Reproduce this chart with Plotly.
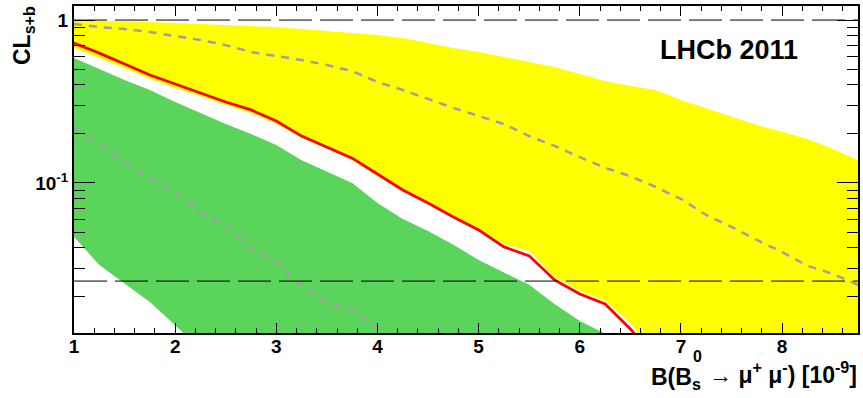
import math
import plotly.graph_objects as go

# ---- data ----
B = [1.0, 1.25, 1.5, 1.75, 2.0, 2.25, 2.5, 2.75, 3.0, 3.25, 3.5, 3.75, 4.0, 4.25, 4.5, 4.75,
     5.0, 5.25, 5.5, 5.75, 6.0, 6.25, 6.5, 6.75, 7.0, 7.25, 7.5, 7.75, 8.0, 8.25, 8.5, 8.75]

yellow_hi = [1.0, 0.993, 0.986, 0.972, 0.958, 0.945, 0.932, 0.918, 0.906, 0.880, 0.856, 0.831,
             0.809, 0.775, 0.722, 0.673, 0.636, 0.593, 0.552, 0.515, 0.466, 0.422, 0.394, 0.372,
             0.323, 0.288, 0.254, 0.227, 0.206, 0.186, 0.162, 0.138]
yellow_lo = [0.673, 0.584, 0.508, 0.435, 0.383, 0.342, 0.301, 0.269, 0.230, 0.189, 0.162, 0.138,
             0.110, 0.0893, 0.0743, 0.0618, 0.0522, 0.0422, 0.0383, 0.0265, 0.0217, 0.0189, 0.0138,
             0.0088, 0.008, 0.008, 0.008, 0.008, 0.008, 0.008, 0.008, 0.008]

green_hi = [0.584, 0.5005, 0.428, 0.372, 0.314, 0.269, 0.230, 0.200, 0.171, 0.138, 0.117, 0.100,
            0.0754, 0.0601, 0.0508, 0.0417, 0.0337, 0.0281, 0.0237, 0.0181, 0.0142, 0.0119, 0.0095]
green_lo = [0.0467, 0.0314, 0.0243, 0.0186, 0.0134, 0.0095]

observed = [0.723, 0.627, 0.537, 0.460, 0.405, 0.357, 0.314, 0.281, 0.240, 0.194, 0.166, 0.142,
            0.1135, 0.0906, 0.0754, 0.0619, 0.0515, 0.0405, 0.0357, 0.0254, 0.0208, 0.0181, 0.0127,
            0.0084]

exp_hi = [0.945, 0.906, 0.881, 0.844, 0.798, 0.754, 0.702, 0.636, 0.601, 0.568, 0.530, 0.486,
          0.417, 0.372, 0.328, 0.289, 0.258, 0.230, 0.194, 0.169, 0.144, 0.124, 0.110, 0.0945,
          0.0798, 0.0636, 0.0537, 0.0447, 0.0377, 0.0310, 0.0277, 0.0237]
exp_lo = [0.2175, 0.171, 0.136, 0.107, 0.088, 0.066, 0.0545, 0.0394, 0.0328, 0.0233, 0.0184,
          0.0166, 0.0129, 0.0088]

ref_levels = [1.0, 0.025]
x_range = [1.0, 8.75]
y_range = [0.012, 1.22]

y_major = [1.0, 0.1]
y_major_text = ["1", "10<sup>-1</sup>"]
y_minor = [0.02, 0.03, 0.04, 0.05, 0.06, 0.07, 0.08, 0.09, 0.2, 0.3, 0.4, 0.5, 0.6, 0.7, 0.8, 0.9]

# ---- figure ----
FONT = "Liberation Sans"
fig = go.Figure()

n_g_hi = len(green_hi)
n_g_lo = len(green_lo)

fig.add_trace(go.Scatter(
    x=B + B[::-1], y=yellow_hi + yellow_lo[::-1], fill="toself", fillcolor="#ffff00",
    line=dict(width=0), mode="lines", hoverinfo="skip", showlegend=False))
fig.add_trace(go.Scatter(
    x=B[:n_g_hi] + B[:n_g_lo][::-1], y=green_hi + green_lo[::-1], fill="toself",
    fillcolor="#5ad45a", line=dict(width=0), mode="lines", hoverinfo="skip", showlegend=False))
fig.add_trace(go.Scatter(
    x=B, y=exp_hi, mode="lines", line=dict(color="#a19ca5", width=2.5, dash="8px,7px"),
    showlegend=False))
fig.add_trace(go.Scatter(
    x=B[:len(exp_lo)], y=exp_lo, mode="lines", line=dict(color="#a19ca5", width=2.5, dash="8px,7px"),
    showlegend=False))
fig.add_trace(go.Scatter(
    x=B[:len(observed)], y=observed, mode="lines", line=dict(color="#ff0000", width=2.8),
    showlegend=False))
for lv in ref_levels:
    fig.add_trace(go.Scatter(
        x=x_range, y=[lv, lv], mode="lines", line=dict(color="black", width=1, dash="33px,8px"),
        showlegend=False))

L, R, T, BOT, W, H = 74, 5, 6, 65, 863, 398
PW, PH = W - L - R, H - T - BOT


def px(xp):
    return (xp - L) / PW


def py(yp):
    return (H - BOT - yp) / PH


bold = lambda s: dict(family=FONT, size=s, weight="bold", color="black")

fig.update_layout(
    width=W, height=H,
    margin=dict(l=L, r=R, t=T, b=BOT, autoexpand=False),
    paper_bgcolor="white", plot_bgcolor="white",
    font=dict(family=FONT, color="black"),
    xaxis=dict(
        range=x_range, showgrid=False, zeroline=False, automargin=False,
        showline=True, linecolor="black", linewidth=2, mirror="allticks",
        ticks="inside", tickmode="linear", tick0=1, dtick=1, ticklen=10, tickwidth=1,
        tickcolor="black", ticklabelstandoff=-5,
        minor=dict(ticks="inside", dtick=0.2, tick0=1, ticklen=5, tickwidth=1, tickcolor="black"),
        tickfont=bold(19),
    ),
    yaxis=dict(
        type="log", range=[math.log10(y_range[0]), math.log10(y_range[1])],
        showgrid=False, zeroline=False, automargin=False,
        showline=True, linecolor="black", linewidth=2, mirror="allticks",
        ticks="inside", tickmode="array", tickvals=y_major, ticktext=y_major_text,
        ticklen=21, tickwidth=1, tickcolor="black",
        minor=dict(ticks="inside", tickmode="array", tickvals=y_minor, ticklen=11, tickwidth=1,
                   tickcolor="black"),
        tickfont=bold(19),
    ),
    annotations=[
        dict(text="LHCb 2011", x=px(729), y=py(50), xref="paper", yref="paper",
             xanchor="center", yanchor="middle", showarrow=False, font=bold(27)),
        dict(text="CL<sub>s+b</sub>", x=px(23), y=py(36), xref="paper", yref="paper",
             xanchor="center", yanchor="middle", textangle=-90, showarrow=False, font=bold(23)),
        # x-axis title, with stacked sub/superscript on B_s^0
        dict(text="B(B<sub>s</sub>", x=px(649), y=py(378), xref="paper", yref="paper",
             xanchor="left", yanchor="middle", showarrow=False, font=bold(23)),
        dict(text="0", x=px(697), y=py(356), xref="paper", yref="paper",
             xanchor="center", yanchor="middle", showarrow=False, font=bold(16)),
        dict(text="→ μ<sup>+</sup> μ<sup>-</sup>) [10<sup>-9</sup>]", x=px(859), y=py(373),
             xref="paper", yref="paper",
             xanchor="right", yanchor="middle", showarrow=False, font=bold(23)),
    ],
)

fig.write_html("out.html", post_script="document.body.style.margin='0';",
               config={"displayModeBar": False})
